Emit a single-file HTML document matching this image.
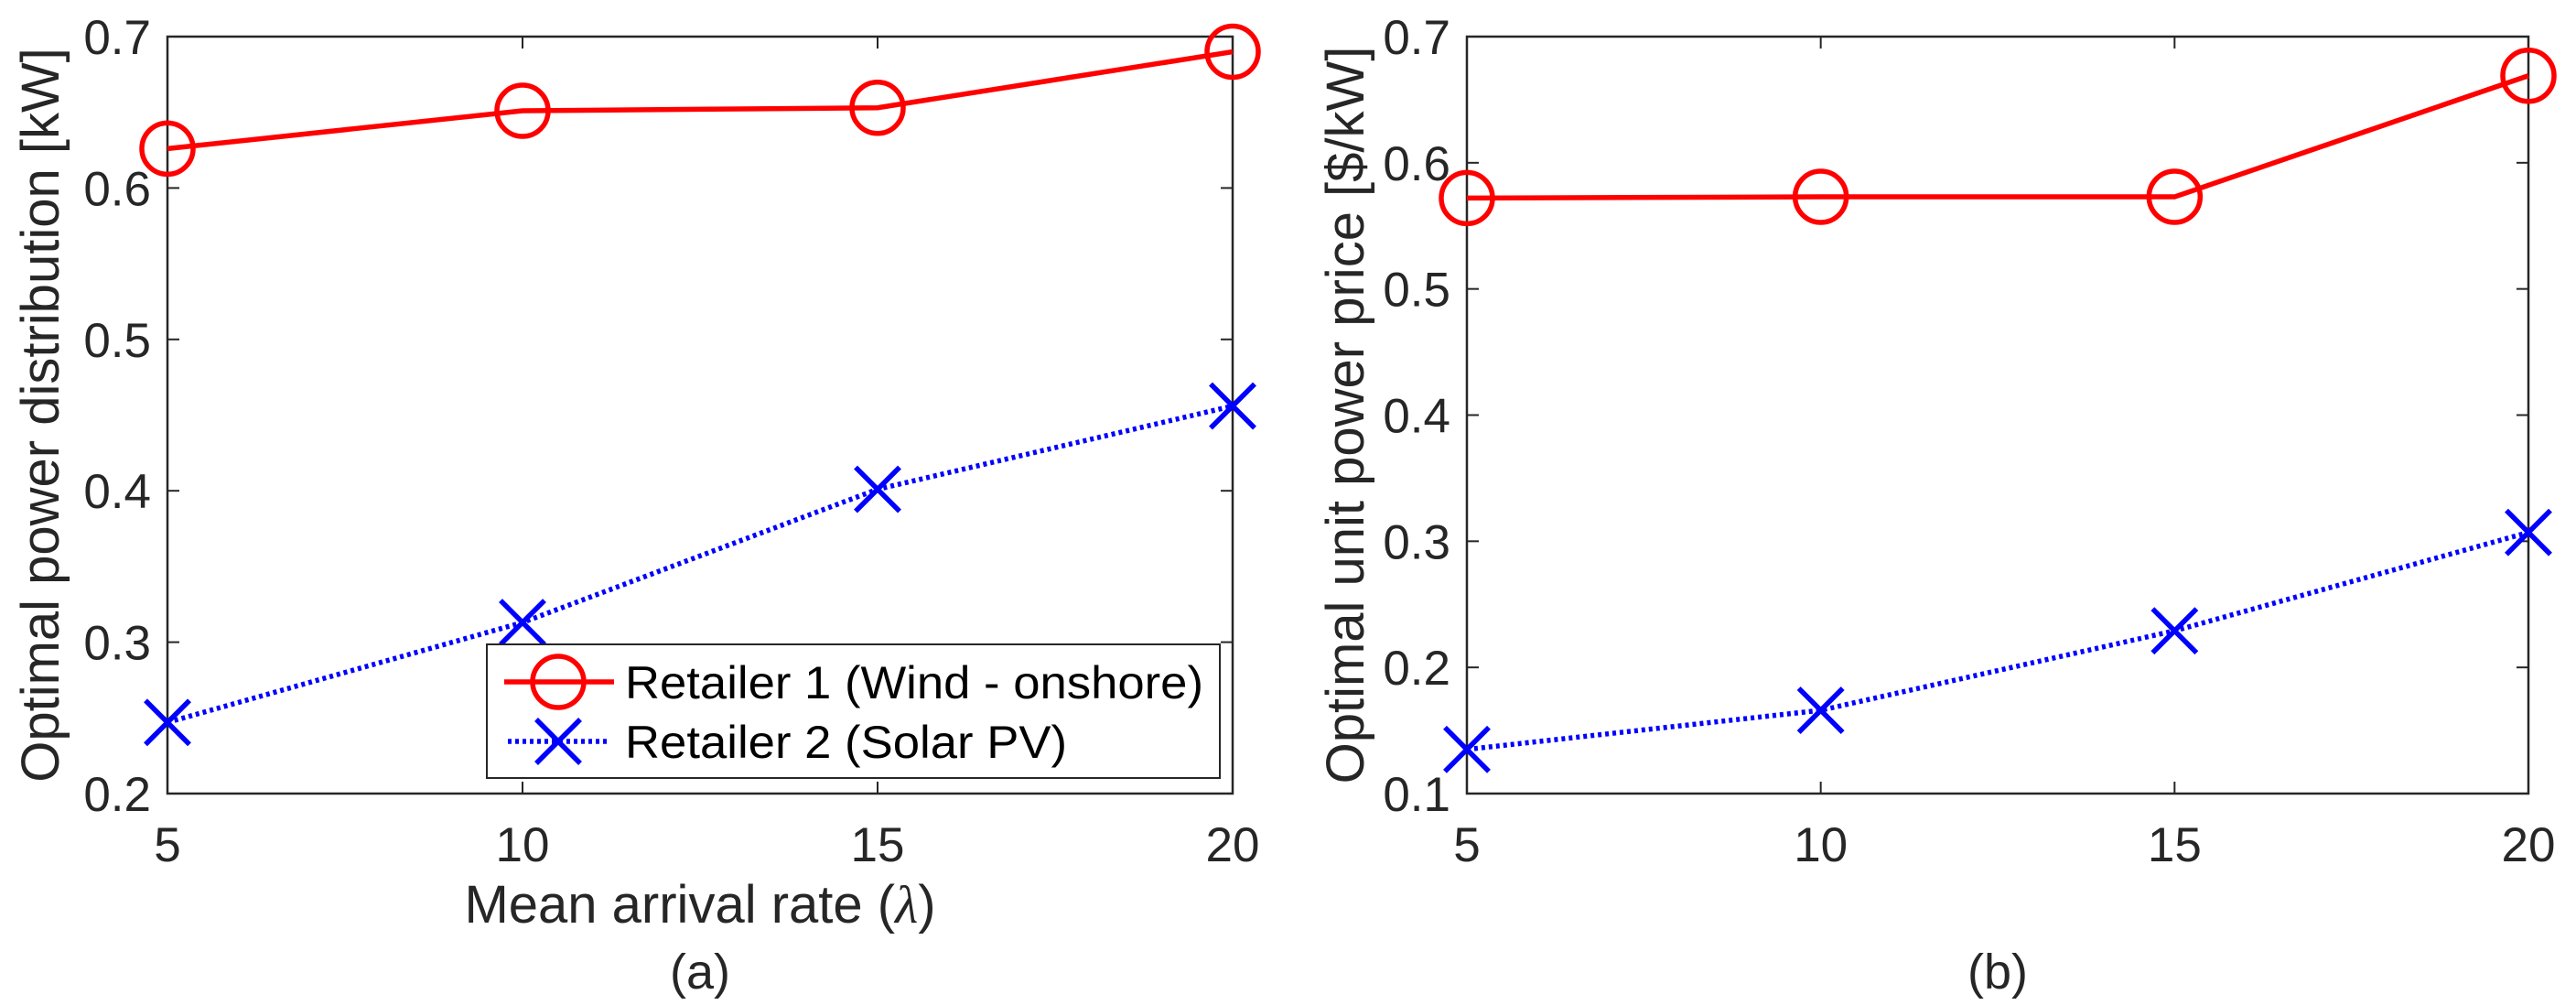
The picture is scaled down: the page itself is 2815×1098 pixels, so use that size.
<!DOCTYPE html>
<html><head><meta charset="utf-8"><style>
html,body{margin:0;padding:0;background:#fff;}
svg{display:block;font-family:"Liberation Sans",Arial,sans-serif;}
</style></head><body>
<svg id="fig" width="2815" height="1098" viewBox="0 0 2815 1098" xmlns="http://www.w3.org/2000/svg"></svg>
<script>
const xCategories = [5, 10, 15, 20];
const powerRetailer1 = [0.626, 0.651, 0.653, 0.690];
const powerRetailer2 = [0.247, 0.313, 0.401, 0.456];
const priceRetailer1 = [0.572, 0.573, 0.573, 0.669];
const priceRetailer2 = [0.135, 0.166, 0.229, 0.307];
const xTickLabels = ["5", "10", "15", "20"];
const yTicksA = [0.2, 0.3, 0.4, 0.5, 0.6, 0.7];
const yTicksB = [0.1, 0.2, 0.3, 0.4, 0.5, 0.6, 0.7];
const legendLabels = ["Retailer 1 (Wind - onshore)", "Retailer 2 (Solar PV)"];

const NS = "http://www.w3.org/2000/svg";
const svg = document.getElementById("fig");
function mk(tag, attrs, parent) {
  const e = document.createElementNS(NS, tag);
  for (const k in attrs) e.setAttribute(k, attrs[k]);
  (parent || svg).appendChild(e);
  return e;
}
const AX = "#262626";

function panel(p) {
  const g = mk("g", {});
  
  
  const xs = v => p.x0 + (v - 5) / 15 * (p.x1 - p.x0);
  const ys = v => p.y1 - (v - p.ymin) / (p.ymax - p.ymin) * (p.y1 - p.y0);
  xCategories.forEach((c, i) => {
    const X = xs(c);
    const t1 = mk("line", {x1: X, x2: X, y1: p.y1, y2: p.y1 - 13, stroke: AX, "stroke-width": 2}, g);
    
    
    mk("line", {x1: X, x2: X, y1: p.y0, y2: p.y0 + 13, stroke: AX, "stroke-width": 2}, g);
    const tl = mk("text", {x: X, y: 941, "text-anchor": "middle", "font-size": 53, fill: AX}, g);
    tl.textContent = xTickLabels[i];
    
    
  });
  p.yticks.forEach(v => {
    const Y = ys(v);
    mk("line", {x1: p.x0, x2: p.x0 + 13, y1: Y, y2: Y, stroke: AX, "stroke-width": 2}, g);
    mk("line", {x1: p.x1, x2: p.x1 - 13, y1: Y, y2: Y, stroke: AX, "stroke-width": 2}, g);
    const tl = mk("text", {x: p.x0 - 18, y: Y + 19, "text-anchor": "end", "font-size": 53, fill: AX}, g);
    tl.textContent = v.toFixed(1);
    
    
  });
  const box = mk("rect", {x: p.x0, y: p.y0, width: p.x1 - p.x0, height: p.y1 - p.y0, fill: "none", stroke: AX, "stroke-width": 2.5}, g);
  
  
  const r1 = p.s1.map((v, i) => xs(xCategories[i]) + "," + ys(v)).join(" ");
  const l1 = mk("polyline", {points: r1, fill: "none", stroke: "#ff0000", "stroke-width": 5.5}, g);
  
  
  const r2 = p.s2.map((v, i) => xs(xCategories[i]) + "," + ys(v)).join(" ");
  const l2 = mk("polyline", {points: r2, fill: "none", stroke: "#0000ff", "stroke-width": 5.5, "stroke-dasharray": "4 4"}, g);
  
  
  p.s1.forEach((v, i) => {
    const c = mk("circle", {cx: xs(xCategories[i]), cy: ys(v), r: 28, fill: "none", stroke: "#ff0000", "stroke-width": 5.5}, g);
    
    
  });
  p.s2.forEach((v, i) => {
    const X = xs(xCategories[i]), Y = ys(v), d = 24;
    const m = mk("path", {d: `M${X-d},${Y-d}L${X+d},${Y+d}M${X-d},${Y+d}L${X+d},${Y-d}`, stroke: "#0000ff", "stroke-width": 5.5, fill: "none"}, g);
    
    
  });
  const cy = (p.y0 + p.y1) / 2;
  const yl = mk("text", {x: p.ylx, y: cy, "text-anchor": "middle", "font-size": 58, fill: AX, transform: `rotate(-90 ${p.ylx} ${cy})`}, g);
  yl.textContent = p.ylabel;
  
  
  const cap = mk("text", {x: (p.x0 + p.x1) / 2, y: 1080, "text-anchor": "middle", "font-size": 54, fill: AX}, g);
  cap.textContent = p.caption;
  
  
  return {g, xs, ys};
}

panel({name: "panel-a", x0: 183, x1: 1347, y0: 40, y1: 867, ymin: 0.2, ymax: 0.7, yticks: yTicksA,
  s1: powerRetailer1, s2: powerRetailer2, ylx: 64, ylabel: "Optimal power distribution [kW]", caption: "(a)"});
panel({name: "panel-b", x0: 1603, x1: 2763, y0: 40, y1: 867, ymin: 0.1, ymax: 0.7, yticks: yTicksB,
  s1: priceRetailer1, s2: priceRetailer2, ylx: 1490, ylabel: "Optimal unit power price [$/kW]", caption: "(b)"});

const xl = mk("text", {x: 765, y: 1008, "text-anchor": "middle", "font-size": 58, fill: AX});
xl.innerHTML = 'Mean arrival rate (<tspan font-family="Liberation Serif" font-style="italic">λ</tspan>)';



const lg = mk("g", {});


mk("rect", {x: 532, y: 704, width: 801, height: 146, fill: "#fff", stroke: AX, "stroke-width": 2}, lg);
const e1 = mk("g", {}, lg);


mk("line", {x1: 551, x2: 671, y1: 745, y2: 745, stroke: "#ff0000", "stroke-width": 5.5}, e1);
mk("circle", {cx: 610, cy: 745, r: 28, fill: "none", stroke: "#ff0000", "stroke-width": 5.5}, e1);
const t1 = mk("text", {x: 683, y: 763, "font-size": 50, fill: "#000", textLength: 632, lengthAdjust: "spacingAndGlyphs"}, e1);
t1.textContent = legendLabels[0];
const e2 = mk("g", {}, lg);


mk("line", {x1: 555, x2: 663, y1: 810, y2: 810, stroke: "#0000ff", "stroke-width": 5.5, "stroke-dasharray": "4 4"}, e2);
mk("path", {d: "M586,786L634,834M586,834L634,786", stroke: "#0000ff", "stroke-width": 5.5}, e2);
const t2 = mk("text", {x: 683, y: 828, "font-size": 50, fill: "#000", textLength: 483, lengthAdjust: "spacingAndGlyphs"}, e2);
t2.textContent = legendLabels[1];
</script>
</body></html>
